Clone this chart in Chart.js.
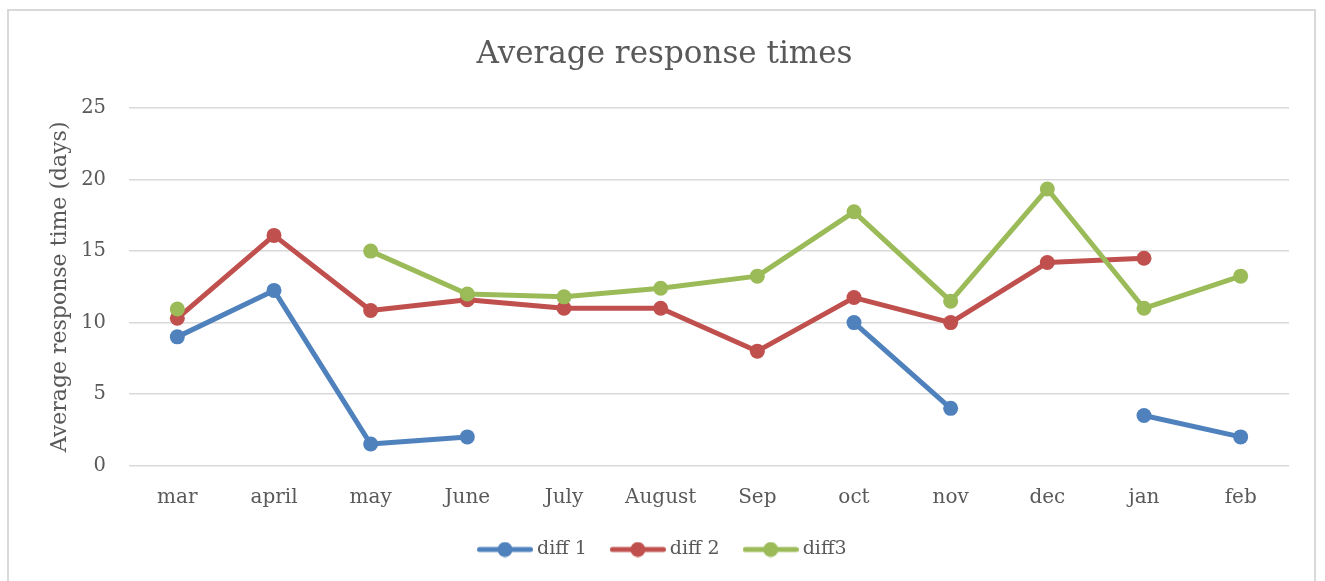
<!DOCTYPE html>
<html>
<head>
<meta charset="utf-8">
<script src="https://cdn.jsdelivr.net/npm/chart.js@4"></script>
<style>
  html, body { margin: 0; padding: 0; background: #ffffff; overflow: hidden; }
  #frame {
    position: absolute; left: 7px; top: 9px; width: 1309px; height: 600px;
    border: 2px solid #d9d9d9; box-sizing: border-box;
  }
  #wrap { position: absolute; left: 0; top: 0; width: 1325px; height: 581px; }
</style>
</head>
<body>
<div id="frame"></div>
<div id="wrap"><canvas id="chart" width="1325" height="581"></canvas></div>
<script>
// Months on the category axis
const categories = ['mar', 'april', 'may', 'June', 'July', 'August', 'Sep', 'oct', 'nov', 'dec', 'jan', 'feb'];

// Average response time in days per month (null = no value that month)
const diff1 = [9.0, 12.25, 1.5, 2.0, null, null, null, 10.0, 4.0, null, 3.5, 2.0];
const diff2 = [10.3, 16.1, 10.85, 11.6, 11.0, 11.0, 8.0, 11.75, 10.0, 14.2, 14.5, null];
const diff3 = [10.95, null, 15.0, 12.0, 11.8, 12.4, 13.25, 17.75, 11.5, 19.35, 11.0, 13.25];

// Value axis range
const yMin = 0;
const yMax = 25;
const yStep = 5;

const seriesNames = ['diff 1', 'diff 2', 'diff3'];
const seriesColors = ['#4f81bd', '#c0504d', '#9bbb59'];

const FONT = "'DejaVu Serif', serif";
const TEXT = '#595959';

// Legend swatch: a short line with a dot in the middle
function swatch(color) {
  const c = document.createElement('canvas');
  c.width = 56; c.height = 16;
  const g = c.getContext('2d');
  g.strokeStyle = color;
  g.lineWidth = 5;
  g.lineCap = 'round';
  g.beginPath();
  g.moveTo(2.5, 8); g.lineTo(53.5, 8);
  g.stroke();
  g.fillStyle = color;
  g.beginPath();
  g.arc(28, 8, 7.5, 0, Math.PI * 2);
  g.fill();
  return c;
}
const swatches = seriesColors.map(swatch);

function series(label, data, idx) {
  return {
    label: label,
    data: data,
    borderColor: seriesColors[idx],
    backgroundColor: seriesColors[idx],
    pointBackgroundColor: seriesColors[idx],
    pointBorderWidth: 0,
    pointRadius: 7.5,
    pointHoverRadius: 7.5,
    borderWidth: 5,
    borderJoinStyle: 'round',
    borderCapStyle: 'round',
    tension: 0,
    spanGaps: false,
    fill: false,
    // later series are painted above earlier ones
    order: 2 - idx
  };
}

new Chart(document.getElementById('chart'), {
  type: 'line',
  data: {
    labels: categories,
    datasets: [
      series(seriesNames[0], diff1, 0),
      series(seriesNames[1], diff2, 1),
      series(seriesNames[2], diff3, 2)
    ]
  },
  options: {
    responsive: false,
    animation: false,
    events: [],
    layout: { padding: { left: 40, right: 36, top: 18, bottom: 12 } },
    plugins: {
      tooltip: { enabled: false },
      title: {
        display: true,
        text: 'Average response times',
        color: TEXT,
        font: { family: FONT, size: 31, weight: 'normal' },
        padding: { top: 18, bottom: 35 }
      },
      legend: {
        display: true,
        position: 'bottom',
        labels: {
          usePointStyle: true,
          pointStyleWidth: 45,
          padding: 28.5,
          color: TEXT,
          font: { family: FONT, size: 19 },
          generateLabels: function (chart) {
            return chart.data.datasets.map(function (ds, i) {
              return {
                text: ds.label,
                pointStyle: swatches[i],
                fillStyle: seriesColors[i],
                strokeStyle: seriesColors[i],
                lineWidth: 0,
                fontColor: TEXT,
                hidden: false,
                datasetIndex: i
              };
            });
          }
        }
      }
    },
    scales: {
      x: {
        type: 'category',
        offset: true,
        grid: { display: false, drawTicks: false },
        border: { display: false },
        ticks: {
          color: TEXT,
          font: { family: FONT, size: 20 },
          padding: 20,
          maxRotation: 0,
          autoSkip: false
        },
        afterFit: function (scale) { scale.height = 46; }
      },
      y: {
        min: yMin,
        max: yMax,
        grid: { color: '#d9d9d9', lineWidth: 1.5, drawTicks: false },
        border: { display: false },
        ticks: {
          stepSize: yStep,
          color: TEXT,
          font: { family: FONT, size: 19.5 },
          padding: 23
        },
        title: {
          display: true,
          text: 'Average response time (days)',
          color: TEXT,
          font: { family: FONT, size: 22, weight: 'normal' },
          padding: { top: 7, bottom: 0 }
        },
        afterFit: function (scale) { scale.width = 89; }
      }
    }
  }
});
</script>
</body>
</html>
